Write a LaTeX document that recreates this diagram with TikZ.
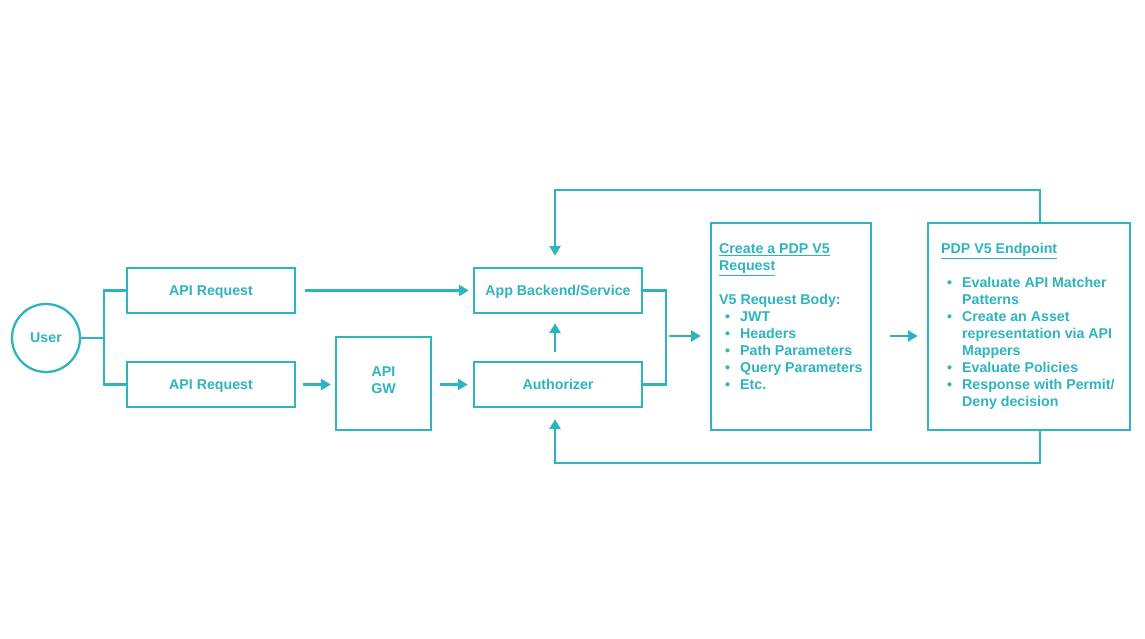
\documentclass[tikz,border=0pt]{standalone}
\usepackage{fontspec}
\newfontfamily\diagfont{Liberation Sans}
\usepackage{xcolor}
\definecolor{cMain}{HTML}{2EB4BE}
\usetikzlibrary{arrows.meta}
\tikzset{
  node-box/.style={draw=cMain,line width=2.3pt,minimum width=168pt,
    minimum height=45pt,align=center,text=cMain,text depth=0pt,
    font=\diagfont\bfseries\fontsize{14.2}{17}\selectfont},
  node-state/.style={draw=cMain,line width=2.3pt,circle,minimum size=68pt,
    inner sep=0pt,text=cMain,text depth=0pt,
    font=\diagfont\bfseries\fontsize{14.2}{17}\selectfont},
  node-text/.style={align=left,inner sep=0pt,text=cMain,
    font=\diagfont\bfseries\fontsize{14.2}{17}\selectfont},
  link/.style={draw=cMain,line width=2.5pt},
  arrow/.style={-{Triangle[length=10pt,width=11pt]},line width=2.5pt,draw=cMain},
}
\newcommand{\bulletitem}[1]{\makebox[21pt][l]{\hspace{6pt}\textbullet}#1}

\begin{document}
\begin{tikzpicture}[x=1pt,y=-1pt]
  \useasboundingbox (0,0) rectangle (1145,639);
  % left part: user, requests, gateway
  \node[node-state] (user) at (46,338) {User};
  \node[node-box] (req-top) at (211,290.5) {API Request};
  \node[node-box] (req-bot) at (211,384.5) {API Request};
  \node[node-box,minimum width=95pt,minimum height=93pt,text depth=6pt] (gw) at (383.5,383.5) {API\\GW};
  \node[node-box] (app) at (558,290.5) {App Backend/Service};
  \node[node-box] (auth) at (558,384.5) {Authorizer};
  % PDP boxes
  \node[node-box,minimum width=160pt,minimum height=207pt] (pdp-req) at (791,326.5) {};
  \node[node-box,minimum width=202pt,minimum height=207pt] (pdp-end) at (1029,326.5) {};
  \node[node-text,anchor=north west] (pdp-req-txt) at (719,243.5)
    {\underline{Create a PDP V5}\\ \underline{Request}\\[17pt]
     V5 Request Body:\\ \bulletitem{JWT}\\ \bulletitem{Headers}\\
     \bulletitem{Path Parameters}\\ \bulletitem{Query Parameters}\\ \bulletitem{Etc.}};
  \node[node-text,anchor=north west] (pdp-end-txt) at (941,243.5)
    {\underline{PDP V5 Endpoint}\\[17pt]
     \bulletitem{Evaluate API Matcher}\\ \hspace*{21pt}Patterns\\
     \bulletitem{Create an Asset}\\ \hspace*{21pt}representation via API\\
     \hspace*{21pt}Mappers\\ \bulletitem{Evaluate Policies}\\
     \bulletitem{Response with Permit/}\\ \hspace*{21pt}Deny decision};
  % connectors
  \coordinate (fork) at (104,338);
  \draw[link] (user.east) -- (fork) |- (req-top.west);
  \draw[link] (fork) |- (req-bot.west);
  \draw[arrow] ([xshift=9pt]req-top.east) -- ([xshift=-4pt]app.west);
  \draw[arrow] ([xshift=7pt]req-bot.east) -- ([xshift=-4pt]req-bot.east -| gw.west);
  \draw[arrow] ([xshift=8pt]auth.west -| gw.east) -- ([xshift=-5pt]auth.west);
  \draw[arrow] ([xshift=-3pt,yshift=9pt]auth.north) -- ([xshift=-3pt,yshift=-9pt]app.south);
  \coordinate (merge) at (666,336);
  \draw[link] (app.east) -| (merge) |- (auth.east);
  \draw[arrow] ([xshift=3pt]merge) -- ([xshift=-9pt]merge -| pdp-req.west);
  \draw[arrow] ([xshift=18pt]merge -| pdp-req.east) -- ([xshift=-9pt]merge -| pdp-end.west);
  \draw[arrow] ([xshift=11pt]pdp-end.north) -- ++(0,-32) -| ([xshift=-3pt,yshift=11pt]app.north);
  \draw[arrow] ([xshift=11pt]pdp-end.south) -- ++(0,32) -| ([xshift=-3pt,yshift=-11pt]auth.south);
\end{tikzpicture}
\end{document}
